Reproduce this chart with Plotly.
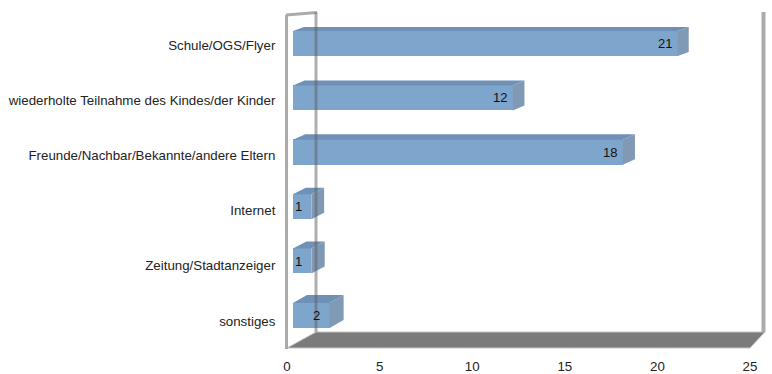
import plotly.graph_objects as go

# Survey answers: how families heard about the offer
categories = [
    "Schule/OGS/Flyer",
    "wiederholte Teilnahme des Kindes/der Kinder",
    "Freunde/Nachbar/Bekannte/andere Eltern",
    "Internet",
    "Zeitung/Stadtanzeiger",
    "sonstiges",
]
counts = [21, 12, 18, 1, 1, 2]
x_ticks = [0, 5, 10, 15, 20, 25]
x_max = 25

W, H = 772, 374


def fx(p):
    """pixel x -> paper fraction"""
    return p / W


def fy(p):
    """pixel y (from top) -> paper fraction"""
    return 1 - p / H


n = len(categories)
pos = [n - 1 - k for k in range(n)]  # first category at the top

# layout of the pseudo-3D box (pixels)
bar_x0, bar_x1 = 293, 751
bar_top_px, bar_bot_px = 16.3, 342.7
lab_top_px, lab_bot_px = 17.4, 348.6
half = 0.23

px_per_x = (bar_x1 - bar_x0) / x_max
px_per_y = (bar_bot_px - bar_top_px) / n

FRONT = "#7ea5cb"
TOP = "#6f91b7"
SIDE = "#8099b5"
WALL = "#ababab"

fig = go.Figure()

# front faces of the bars
fig.add_trace(go.Bar(
    x=counts, y=pos, orientation="h", width=2 * half,
    marker=dict(color=FRONT, line=dict(width=0)),
    xaxis="x2", yaxis="y2", hoverinfo="skip", showlegend=False,
))

# invisible carrier for the category / value axes
fig.add_trace(go.Scatter(
    x=counts, y=pos, mode="markers", marker=dict(opacity=0),
    hoverinfo="skip", showlegend=False,
))

shapes = []

# floor
floor = [(287, 348), (750, 348), (765, 332), (316, 332)]
path = "M " + " L ".join(f"{fx(a):.5f},{fy(b):.5f}" for a, b in floor) + " Z"
shapes.append(dict(type="path", xref="paper", yref="paper", path=path,
                   fillcolor="#7b7b7b", line=dict(color="#c4c4c4", width=1),
                   layer="below"))


def seg(x0, y0, x1, y1, color, width, layer="below"):
    shapes.append(dict(type="line", xref="paper", yref="paper",
                       x0=fx(x0), y0=fy(y0), x1=fx(x1), y1=fy(y1),
                       line=dict(color=color, width=width), layer=layer))


# walls
seg(286.5, 15, 286.5, 349, WALL, 3)
seg(286, 15, 317, 12.5, WALL, 3)
seg(763.5, 12, 763.5, 332, WALL, 4)

# top and side faces of each bar
for v, p in zip(counts, pos):
    ddx = (14 - 0.6 * p) / px_per_x
    ddy = (8 - 0.8 * p) / px_per_y
    top, bot = p + half, p - half
    top_face = (f"M 0,{top} L {v},{top} L {v + ddx},{top + ddy} "
                f"L {ddx},{top + ddy} Z")
    side_face = (f"M {v},{bot} L {v},{top} L {v + ddx},{top + ddy} "
                 f"L {v + ddx},{bot + ddy} Z")
    for pth, col in ((top_face, TOP), (side_face, SIDE)):
        shapes.append(dict(type="path", xref="x2", yref="y2", path=pth,
                           fillcolor=col, line=dict(width=0), layer="above"))

# back edge of the left wall, seen through the bars
seg(316, 12.5, 316, 332, "rgba(95,95,95,0.5)", 3, layer="above")

annotations = [
    dict(x=v, y=p, xref="x2", yref="y2", text=str(v), showarrow=False,
         xanchor="center", xshift=-13,
         font=dict(family="Liberation Sans, Arial, sans-serif", size=13,
                   color="#111111"))
    for v, p in zip(counts, pos)
]

axis_font = dict(family="Liberation Sans, Arial, sans-serif", size=13.3,
                 color="#222222")

fig.update_layout(
    template="none",
    width=W, height=H, autosize=False,
    margin=dict(l=0, r=0, t=0, b=0, pad=0),
    paper_bgcolor="white", plot_bgcolor="rgba(0,0,0,0)",
    showlegend=False,
    shapes=shapes,
    annotations=annotations,
    xaxis=dict(
        range=[0, x_max], domain=[fx(287), fx(750)], anchor="y",
        tickvals=x_ticks, ticktext=[str(t) for t in x_ticks],
        ticks="outside", ticklen=5, tickcolor="rgba(0,0,0,0)",
        showgrid=False, zeroline=False, showline=False, automargin=False,
        tickfont=axis_font, fixedrange=True,
    ),
    yaxis=dict(
        range=[-0.5, n - 0.5], domain=[fy(lab_bot_px), fy(lab_top_px)],
        anchor="x", tickvals=pos, ticktext=categories,
        ticks="outside", ticklen=8, tickcolor="rgba(0,0,0,0)",
        showgrid=False, zeroline=False, showline=False, automargin=False,
        tickfont=axis_font, fixedrange=True,
    ),
    xaxis2=dict(
        range=[0, x_max], domain=[fx(bar_x0), fx(bar_x1)], anchor="y2",
        visible=False, fixedrange=True, automargin=False,
    ),
    yaxis2=dict(
        range=[-0.5, n - 0.5], domain=[fy(bar_bot_px), fy(bar_top_px)],
        anchor="x2", visible=False, fixedrange=True, automargin=False,
    ),
    bargap=0,
)

fig.write_html("out.html")
